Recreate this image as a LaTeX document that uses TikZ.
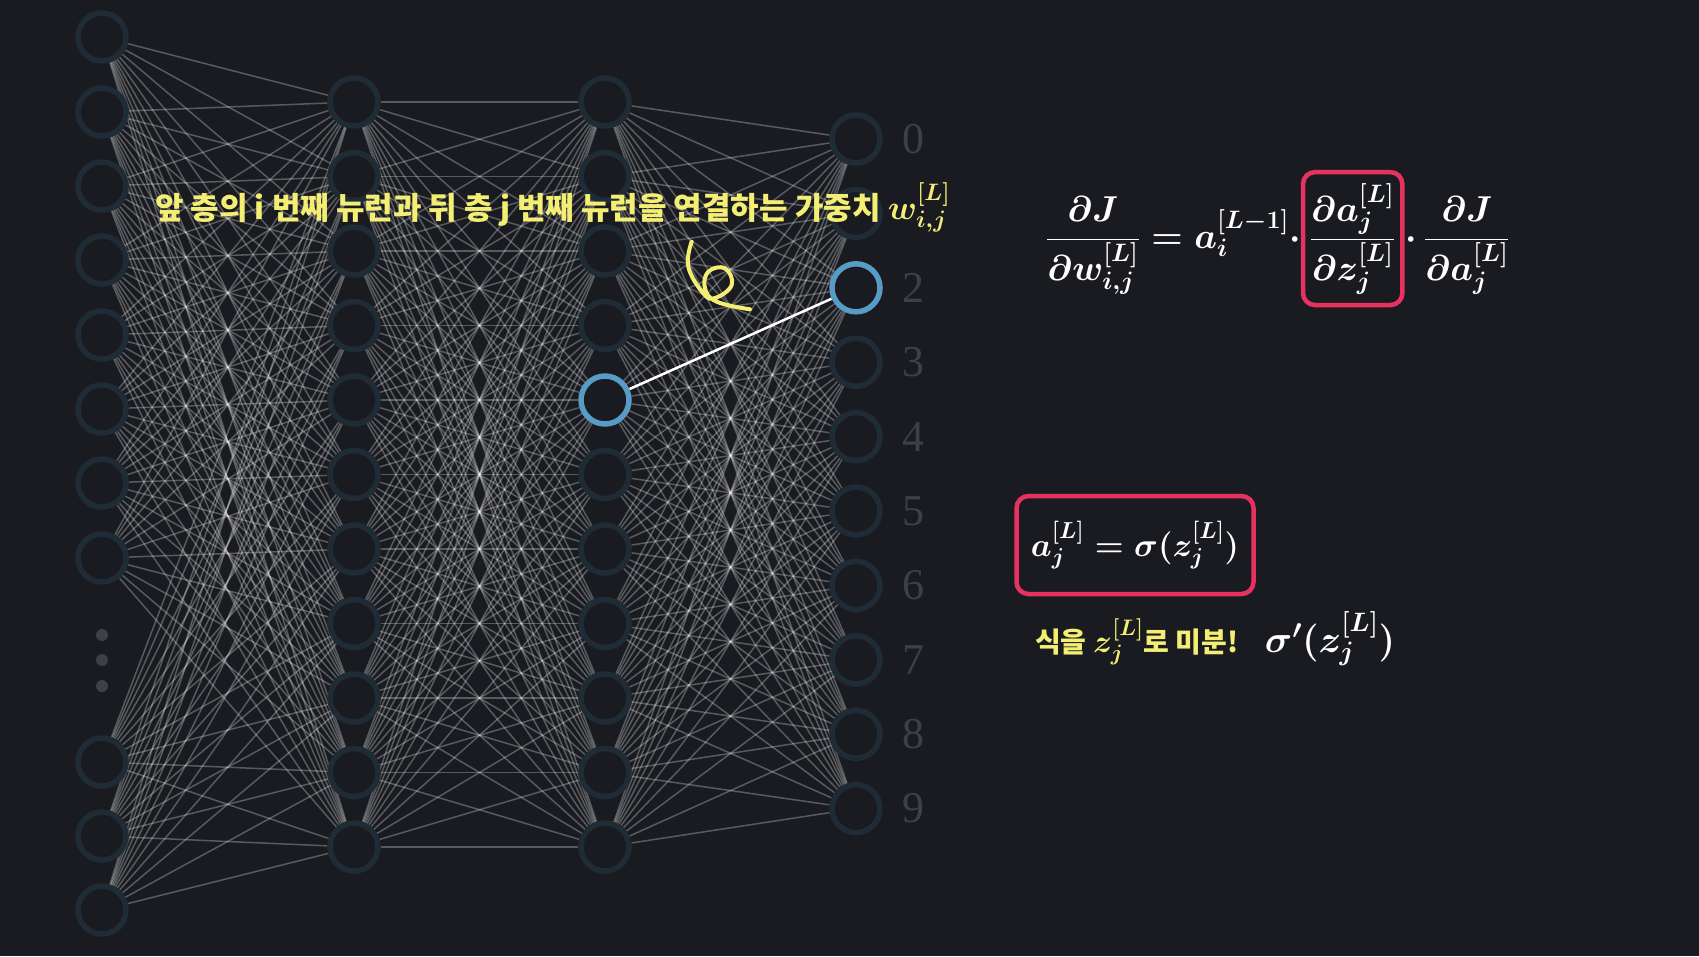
\RequirePackage{fix-cm}
\documentclass[tikz,border=0pt]{standalone}
\usepackage{amsmath}
\usepackage{fontspec}
\usepackage{tikz}
\usetikzlibrary{positioning,backgrounds}

\newfontfamily\kr{Noto Sans CJK KR}
\newfontfamily\digitos{Liberation Serif}

\definecolor{fundo}{RGB}{26,27,32}
\definecolor{borda}{RGB}{31,44,54}
\definecolor{azul}{RGB}{88,155,196}
\definecolor{amarelo}{RGB}{244,238,116}
\definecolor{vermelho}{RGB}{230,50,95}
\definecolor{cinza}{RGB}{62,64,69}

\begin{document}
\begin{tikzpicture}[
	x=1pt, y=-1pt,
	neuronio/.style={draw=borda, circle, line width=5.5pt, fill=fundo, minimum size=48pt, inner sep=0pt},
	destaque/.style={neuronio, draw=azul},
	ligacao/.style={white, opacity=0.28, line width=1.5pt},
	ativa/.style={white, line width=2.5pt},
	rotulo/.style={text=cinza, font=\digitos\fontsize{44}{44}\selectfont},
	eq/.style={text=white, font=\fontsize{36}{44}\selectfont\boldmath, inner sep=0pt},
	caixa/.style={draw=vermelho, line width=4.5pt, rounded corners=12pt},
	nota/.style={text=amarelo, font=\kr\bfseries\fontsize{31}{36}\selectfont, inner sep=0pt},
	rabisco/.style={amarelo, line width=4pt, line cap=round, line join=round},
	pontos/.style={fill=cinza}
	]
	\useasboundingbox (0,0) rectangle (1699,956);

	% camadas
	\foreach \y [count=\i] in {37,112,186,260,335,409,483,558,762,836,910}
		\node[neuronio] (E\i) at (102,\y) {};
	\foreach \i in {1,...,11}
		\node[neuronio] (A\i) at (354,{102+74.5*(\i-1)}) {};
	\foreach \i in {1,...,11}{
		\ifnum\i=5 \def\estilo{destaque}\else\def\estilo{neuronio}\fi
		\node[\estilo] (B\i) at (605,{102+74.5*(\i-1)}) {};
	}
	\foreach \i in {0,...,9}{
		\ifnum\i=2 \def\estilo{destaque}\else\def\estilo{neuronio}\fi
		\node[\estilo] (S\i) at (856,{139+74.4*\i}) {};
		% o 1 fica escondido pelo texto
		\ifnum\i=1 \else\node[rotulo] (n\i) at (913,{139+74.4*\i}) {\i};\fi
	}

	\fill[pontos] (102,635) circle (6pt);
	\fill[pontos] (102,660) circle (6pt);
	\fill[pontos] (102,686) circle (6pt);

	% ligacoes
	\begin{pgfonlayer}{background}
		\fill[fundo] (0,0) rectangle (1699,956);
		\foreach \i in {1,...,11}
			\foreach \j in {1,...,11}
				\draw[ligacao] (E\i) -- (A\j);
		\foreach \i in {1,...,11}
			\foreach \j in {1,...,11}
				\draw[ligacao] (A\i) -- (B\j);
		\foreach \i in {1,...,11}
			\foreach \j in {0,...,9}
				\draw[ligacao] (B\i) -- (S\j);
		\draw[ativa] (B5) -- (S2);
	\end{pgfonlayer}

	% textos
	\node[nota, anchor=base west] (titulo) at (155,219)
		{앞 층의 i 번째 뉴런과 뒤 층 j 번째 뉴런을 연결하는 가중치 {\fontsize{34}{40}\selectfont\boldmath$w^{[L]}_{i,j}$}};
	\draw[rabisco] plot[smooth, tension=0.7] coordinates {(691.7,241.7) (688.3,266.7) (703.3,293.3) (715,298) (731.7,285) (725,268.3) (708.3,271.7) (705,288.3) (716.7,301.7) (750,309.3)};

	\node[eq, anchor=base west] (lhs) at (1046,248)
		{$\displaystyle\frac{\partial J}{\partial w^{[L]}_{i,j}} = a^{[L-1]}_i\cdot$};
	\node[eq, caixa, inner xsep=7pt, inner ysep=11pt, base right=0pt of lhs] (dadz)
		{$\displaystyle\frac{\partial a^{[L]}_j}{\partial z^{[L]}_j}$};
	\node[eq, base right=1pt of dadz] (rhs)
		{$\displaystyle\cdot\,\frac{\partial J}{\partial a^{[L]}_j}$};

	\node[eq, font=\fontsize{33}{40}\selectfont\boldmath, caixa, minimum width=237pt, minimum height=98pt] (sig) at (1135,545)
		{$a^{[L]}_j = \sigma(z^{[L]}_j)$};
	\node[nota, font=\kr\bfseries\fontsize{28}{34}\selectfont, anchor=base west] (deriv) at (1035,652)
		{식을 {\fontsize{32}{38}\selectfont\boldmath$z^{[L]}_j$}로 미분!};
	\node[eq, font=\fontsize{38}{46}\selectfont\boldmath, base right=26pt of deriv] (sigp) {$\sigma'(z^{[L]}_j)$};
\end{tikzpicture}
\end{document}
